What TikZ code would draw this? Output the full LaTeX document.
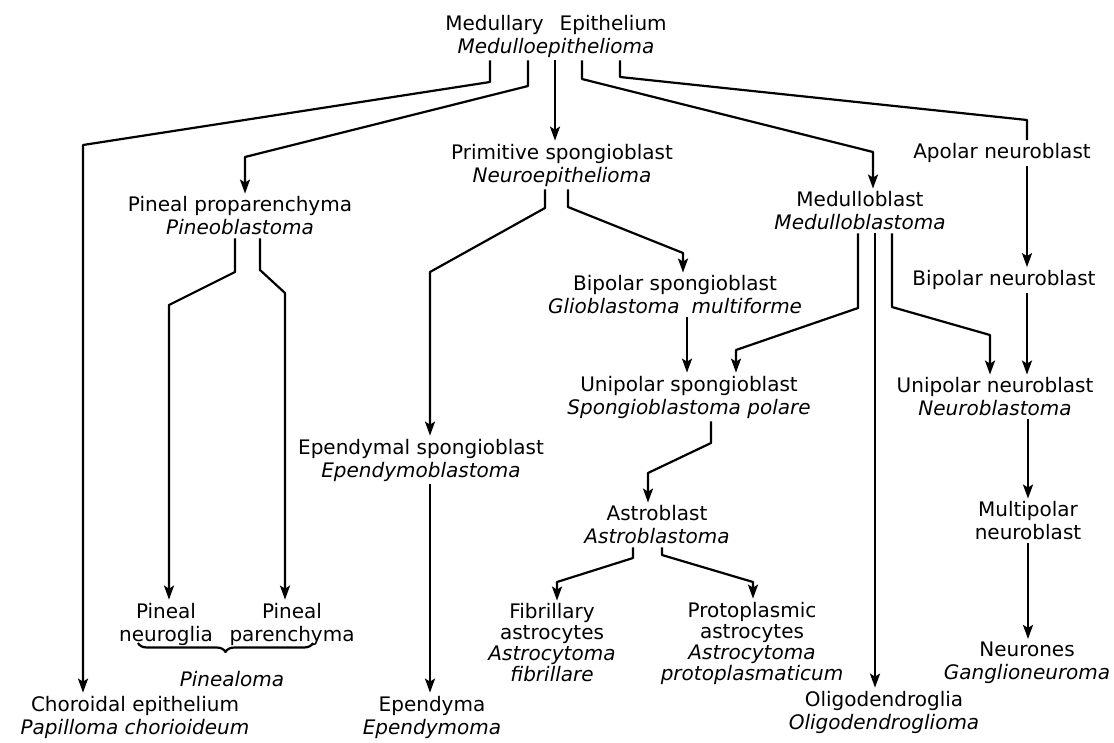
\documentclass[tikz,border=0pt]{standalone}
\usepackage{fontspec}
\setmainfont{DejaVu Sans}
\usepackage{tikz}
\usetikzlibrary{arrows.meta, decorations.pathreplacing}
\tikzstyle{arrow} = [line width=2.2pt,line join=round,-{Stealth[length=14pt,width=10pt,inset=3pt]}]
\tikzstyle{stem} = [line width=2.2pt,line join=round]
\tikzstyle{cell} = [align=center,inner sep=3pt]

\begin{document}
\begin{tikzpicture}[x=1pt,y=-1pt,font=\fontsize{20}{23}\selectfont]
		\useasboundingbox (0,0) rectangle (1114,742);
		% Cells:
		% Every cell is a two-line node, the cell name on top and the tumour in italics below
		\node[cell] (medep) at (556,36) {Medullary\hspace{0.8em}Epithelium\\\textit{Medulloepithelioma}};
		\node[cell] (pinprop) at (240,216) {Pineal proparenchyma\\\textit{Pineoblastoma}};
		\node[cell] (primsp) at (562,165) {Primitive spongioblast\\\textit{Neuroepithelioma}};
		\node[cell] (medbl) at (860,211) {Medulloblast\\\textit{Medulloblastoma}};
		\node[cell] (apolar) at (1002,153) {Apolar neuroblast};
		\node[cell] (bipsp) at (675,295) {Bipolar spongioblast\\\textit{Glioblastoma\hspace{0.6em}multiforme}};
		\node[cell] (bipneu) at (1004,280) {Bipolar neuroblast};
		\node[cell] (unisp) at (689,397) {Unipolar spongioblast\\\textit{Spongioblastoma polare}};
		\node[cell] (unineu) at (995,397) {Unipolar neuroblast\\\textit{Neuroblastoma}};
		\node[cell] (ependsp) at (421,460) {Ependymal spongioblast\\\textit{Ependymoblastoma}};
		\node[cell] (astro) at (657,525) {Astroblast\\\textit{Astroblastoma}};
		\node[cell] (multi) at (1028,521) {Multipolar\\neuroblast};
		
		% Bottom row:
		\node[cell] (pinneu) at (166,624) {Pineal\\neuroglia};
		\node[cell] (pinpar) at (292,624) {Pineal\\parenchyma};
		\node[cell] (pinealoma) at (232,679) {\textit{Pinealoma}};
		\node[cell,font=\fontsize{20}{21}\selectfont] (fibr) at (552,643) {Fibrillary\\astrocytes\\\textit{Astrocytoma}\\\textit{fibrillare}};
		\node[cell,font=\fontsize{20}{21}\selectfont] (proto) at (752,643) {Protoplasmic\\astrocytes\\\textit{Astrocytoma}\\\textit{protoplasmaticum}};
		\node[cell] (choroid) at (135,717) {Choroidal epithelium\\\textit{Papilloma chorioideum}};
		\node[cell] (ependyma) at (432,717) {Ependyma\\\textit{Ependymoma}};
		\node[cell] (oligo) at (884,712) {Oligodendroglia\\\textit{Oligodendroglioma}};
		\node[cell] (neurones) at (1027,663) {Neurones\\\textit{Ganglioneuroma}};
		
		% The brace under the two pineal cells:
		\draw[stem,decorate,decoration={brace,mirror,amplitude=9pt}] (138,643) -- (313,643);
		
		% Connectors out of the medullary epithelium:
		\draw[arrow] ([xshift=-66pt]medep.south) -- (490,82) -- (83,145) -- ([xshift=-52pt]choroid.north);
		\draw[arrow] ([xshift=-28pt]medep.south) -- (528,86) -- (245,157) -- ([xshift=5pt]pinprop.north);
		\draw[arrow] ([xshift=-1pt]medep.south) -- ([xshift=-1pt]medep.south |- primsp.north);
		\draw[arrow] ([xshift=26pt]medep.south) -- (582,79) -- (873,152) -- ([xshift=13pt]medbl.north);
		\draw[stem] ([xshift=64pt]medep.south) -- (620,77) -- (1027,120) -- ([xshift=25pt]apolar.north);
		
		% Pineal branch:
		\draw[arrow] ([xshift=-5pt]pinprop.south) -- (235,272) -- (169,305) -- ([xshift=3pt]pinneu.north);
		\draw[arrow] ([xshift=20pt]pinprop.south) -- (260,270) -- (285,293) -- ([xshift=-7pt]pinpar.north);
		
		% Spongioblast branch:
		\draw[arrow] ([xshift=-17pt]primsp.south) -- (545,208) -- (430,272) -- ([xshift=9pt]ependsp.north);
		\draw[arrow] ([xshift=6pt]primsp.south) -- (568,207) -- (683,253) -- ([xshift=8pt]bipsp.north);
		\draw[arrow] ([xshift=12pt]bipsp.south) -- ([xshift=12pt]bipsp.south |- unisp.north);
		\draw[arrow] ([xshift=9pt]ependsp.south) -- ([xshift=9pt]ependsp.south |- ependyma.north);
		\draw[arrow] ([xshift=22pt]unisp.south) -- (711,443) -- (648,473) -- ([xshift=-9pt]astro.north);
		\draw[arrow] ([xshift=-24pt]astro.south) -- (633,558) -- (557,582) -- ([xshift=5pt]fibr.north);
		\draw[arrow] ([xshift=5pt]astro.south) -- (662,555) -- (753,582) -- ([xshift=1pt]proto.north);
		
		% Medulloblast branch:
		\draw[arrow] ([xshift=-2pt]medbl.south) -- (858,308) -- (736,350) -- ([xshift=47pt]unisp.north);
		\draw[arrow] ([xshift=15pt]medbl.south) -- ([xshift=15pt]medbl.south |- oligo.north);
		\draw[arrow] ([xshift=32pt]medbl.south) -- (892,307) -- (990,335) -- ([xshift=-5pt]unineu.north);
		
		% Neuroblast branch:
		\draw[arrow] ([xshift=25pt]apolar.south) -- ([xshift=25pt]apolar.south |- bipneu.north);
		\draw[arrow] ([xshift=23pt]bipneu.south) -- ([xshift=23pt]bipneu.south |- unineu.north);
		\draw[arrow] ([xshift=33pt]unineu.south) -- ([xshift=33pt]unineu.south |- multi.north);
		\draw[arrow] (multi.south) -- (multi.south |- neurones.north);
\end{tikzpicture}
\end{document}
